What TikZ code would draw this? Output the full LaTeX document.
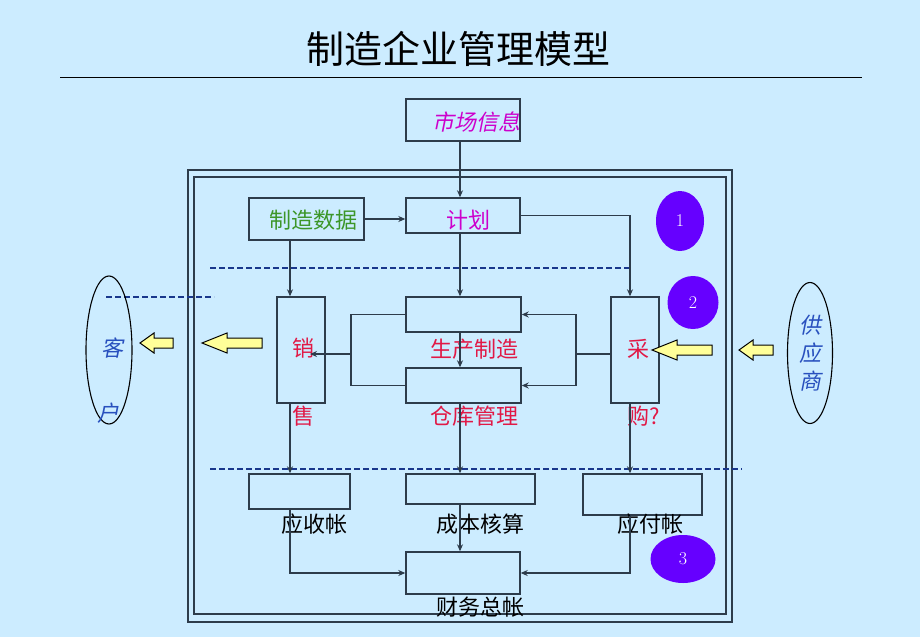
\documentclass[tikz,border=0pt]{standalone}
\usepackage{fontspec}
\usetikzlibrary{arrows.meta,shapes.geometric,positioning}
\newfontfamily\cjk{Noto Sans CJK SC}
\newfontfamily\cjkit[FakeSlant=0.2]{Noto Sans CJK SC}
\definecolor{bgblue}{RGB}{204,236,255}
\definecolor{boxline}{RGB}{45,60,75}
\definecolor{dashblue}{RGB}{25,55,140}
\definecolor{redtxt}{RGB}{225,25,70}
\definecolor{magtxt}{RGB}{204,0,204}
\definecolor{greentxt}{RGB}{60,150,40}
\definecolor{bluetxt}{RGB}{40,80,190}
\definecolor{dotviolet}{RGB}{102,0,255}
\definecolor{arrowyellow}{RGB}{255,255,153}
% fat yellow arrow pointing left: tip x, tip y, length, head length
\newcommand{\fatarrow}[4]{%
  \draw[fill=arrowyellow,line width=1pt,line join=miter] (#1,#2) -- ++(#4,-10) -- ++(0,5) -- ++(#3-#4,0)
    -- ++(0,10) -- ++(-#3+#4,0) -- ++(0,5) -- cycle;}
\begin{document}
\begin{tikzpicture}[x=1pt,y=-1pt,
    box/.style={draw=boxline,line width=1.4pt,inner sep=0pt},
    lbl/.style={inner sep=0pt,font=\cjk\fontsize{22}{26}\selectfont},
    lblit/.style={inner sep=0pt,font=\cjkit\fontsize{22}{26}\selectfont},
    conn/.style={draw=boxline,line width=1.3pt,-{Stealth[length=7pt,width=6pt]}},
    plain/.style={draw=boxline,line width=1.3pt},
    dashline/.style={draw=dashblue,line width=1.6pt,dash pattern=on 6pt off 3pt},
    numdot/.style={ellipse,fill=dotviolet,text=white,inner sep=0pt,font=\fontsize{18}{20}\selectfont},
    party/.style={ellipse,draw=black,line width=1.1pt,inner sep=0pt}]

    % Background and title
    \fill[bgblue] (0,0) rectangle (920,637);
    \node[inner sep=0pt,font=\cjk\fontsize{38}{44}\selectfont] (title) at (458,49) {制造企业管理模型};
    \draw[line width=0.8pt] (60,77) -- (862,77);

    % Draw frame
    \draw[boxline,line width=1.8pt] (188,170) rectangle (732,622);
    \draw[boxline,line width=1.8pt] (194,177) rectangle (726,614);

    % Draw dashed separators
    \draw[dashline] (210,268) -- (632,268);
    \draw[dashline] (106,297) -- (214,297);
    \draw[dashline] (210,469) -- (742,469);

    % Columns for connectors
    \coordinate (colL) at (290,0);
    \coordinate (colM) at (460,0);
    \coordinate (colR) at (630,0);

    % Draw boxes
    \node[box,minimum width=114pt,minimum height=42pt] (market) at (463,120) {};
    \node[box,minimum width=115pt,minimum height=42pt] (data) at (306.5,219) {};
    \node[box,minimum width=114pt,minimum height=35pt] (plan) at (463,215.5) {};
    \node[box,minimum width=48pt,minimum height=106pt] (sell) at (301,350) {};
    \node[box,minimum width=48pt,minimum height=106pt] (buy) at (635,350) {};
    \node[box,minimum width=115pt,minimum height=35pt] (prod) at (463.5,314.5) {};
    \node[box,minimum width=115pt,minimum height=35pt] (store) at (463.5,385.5) {};
    \node[box,minimum width=101pt,minimum height=35pt] (recv) at (299.5,491.5) {};
    \node[box,minimum width=129pt,minimum height=30pt] (cost) at (470.5,489) {};
    \node[box,minimum width=119pt,minimum height=41pt] (pay) at (642.5,494.5) {};
    \node[box,minimum width=114pt,minimum height=42pt] (ledger) at (463,573) {};

    % Draw labels
    \node[lblit,text=magtxt] (marketlbl) at (476,122) {市场信息};
    \node[lbl,text=greentxt] (datalbl) at (313,220) {制造数据};
    \node[lbl,text=magtxt] (planlbl) at (468,220) {计划};
    \node[lbl,text=redtxt] (selllbl) at (303,348) {销};
    \node[lbl,text=redtxt] (selllbl2) at (303,416) {售};
    \node[lbl,text=redtxt] (buylbl) at (638,349) {采};
    \node[lbl,text=redtxt] (buylbl2) at (644,416) {购?};
    \node[lbl,text=redtxt] (prodlbl) at (474,349) {生产制造};
    \node[lbl,text=redtxt] (storelbl) at (474,416) {仓库管理};
    \node[lbl] (recvlbl) at (314,524) {应收帐};
    \node[lbl] (costlbl) at (480,524) {成本核算};
    \node[lbl] (paylbl) at (650,524) {应付帐};
    \node[lbl] (ledgerlbl) at (480,607) {财务总帐};

    % Draw customer and supplier
    \node[party,minimum width=46pt,minimum height=148pt] (client) at (109,350) {};
    \node[lblit,text=bluetxt] (clientlbl) at (112,348) {客};
    \node[lblit,text=bluetxt] (clientlbl2) at (108,413) {户};
    \node[party,minimum width=45pt,minimum height=141pt] (supplier) at (810,353) {};
    \node[lblit,text=bluetxt,align=center,font=\cjkit\fontsize{22}{28}\selectfont] (supplierlbl) at (810,353) {供\\应\\商};

    % Draw stage markers
    \node[numdot,minimum width=48pt,minimum height=60pt] (n1) at (680,221) {1};
    \node[numdot,minimum width=51pt,minimum height=53pt] (n2) at (693,302.5) {2};
    \node[numdot,minimum width=65pt,minimum height=48pt] (n3) at (683,559) {3};

    % Draw connectors
    \draw[conn] (market.south -| colM) -- (plan.north -| colM);
    \draw[conn] (data.east) -- (data.east -| plan.west);
    \draw[conn] (plan.east) -| (buy.north -| colR);
    \draw[conn] (data.south -| colL) -- (sell.north -| colL);
    \draw[conn] (plan.south -| colM) -- (prod.north -| colM);
    \draw[conn] (prod.south -| colM) -- (store.north -| colM);

    \coordinate (brL) at (351,354);
    \coordinate (brR) at (576,354);
    \draw[plain] (prod.west) -| (brL) |- (store.west);
    \draw[conn] (brL) -- ([xshift=7pt]selllbl.center |- brL);
    \draw[conn] (brR) |- (prod.east);
    \draw[conn] (brR) |- (store.east);
    \draw[plain] (brR) -- (brR -| buy.west);

    \draw[conn] (sell.south -| colL) -- (recv.north -| colL);
    \draw[conn] (store.south -| colM) -- (cost.north -| colM);
    \draw[conn] (buy.south -| colR) -- (pay.north -| colR);
    \draw[conn] (recv.south -| colL) |- (ledger.west);
    \draw[conn] (cost.south -| colM) -- (ledger.north -| colM);
    \draw[conn] (pay.south -| colR) |- (ledger.east);

    % Draw flow arrows
    \fatarrow{140}{343}{33}{14}
    \fatarrow{202}{343}{60}{25}
    \fatarrow{652}{350}{60}{25}
    \fatarrow{739}{350}{34}{14}
\end{tikzpicture}
\end{document}
